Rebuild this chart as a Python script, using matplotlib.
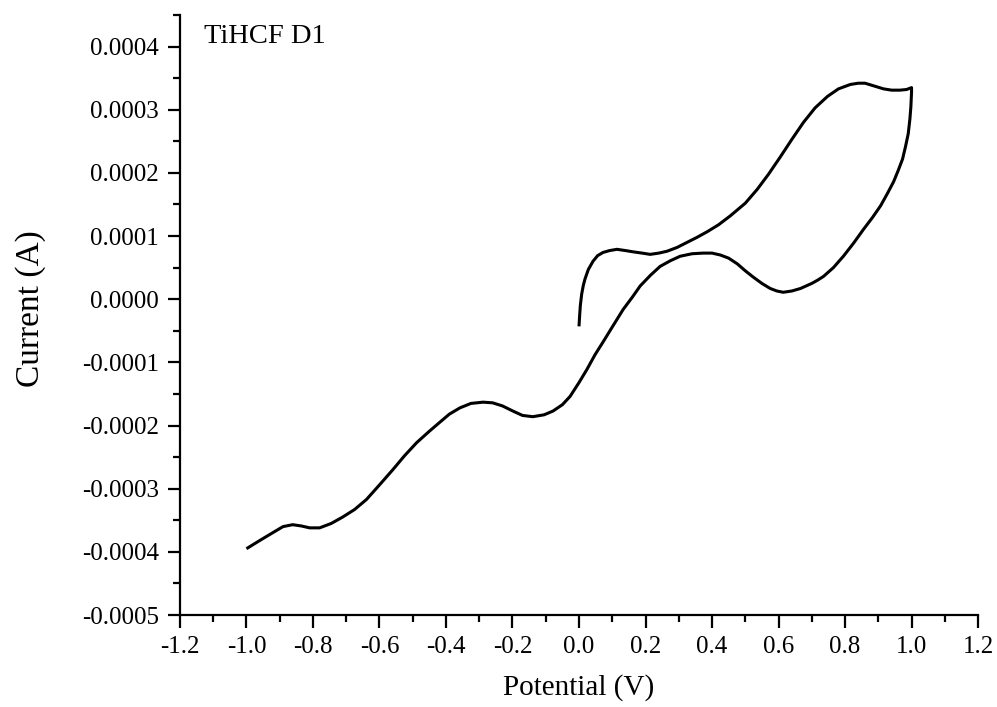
import numpy as np
import matplotlib
matplotlib.use("Agg")
import matplotlib.pyplot as plt
from matplotlib.ticker import MultipleLocator, FormatStrFormatter

plt.rcParams['font.family'] = ['Liberation Serif', 'DejaVu Serif']

# Cyclic voltammogram
# forward scan 0 -> 1 V, then reverse scan 1 -> -1 V (current in 1e-4 A)
fwd_potential = [
    0.000, 0.002, 0.004, 0.008, 0.013, 0.018, 0.028, 0.042, 0.056, 0.072,
    0.092, 0.114, 0.140, 0.163, 0.190, 0.214, 0.240, 0.265, 0.295, 0.325,
    0.355, 0.386, 0.420, 0.455, 0.500, 0.536, 0.570, 0.605, 0.640, 0.675,
    0.710, 0.747, 0.780, 0.816, 0.840, 0.860, 0.885, 0.916, 0.940, 0.965,
    0.985, 1.000,
]
fwd_current = [
    -0.43, -0.25, -0.10, 0.08, 0.22, 0.32, 0.47, 0.60, 0.69, 0.74,
    0.77, 0.79, 0.77, 0.75, 0.73, 0.71, 0.73, 0.76, 0.82, 0.90,
    0.98, 1.07, 1.18, 1.32, 1.52, 1.74, 1.98, 2.25, 2.53, 2.80,
    3.03, 3.21, 3.33, 3.40, 3.42, 3.42, 3.38, 3.33, 3.31, 3.31,
    3.32, 3.35,
]
rev_potential = [
    1.000, 0.998, 0.995, 0.990, 0.982, 0.973, 0.960, 0.946, 0.927, 0.907,
    0.882, 0.856, 0.826, 0.795, 0.765, 0.735, 0.717, 0.700, 0.666, 0.640,
    0.614, 0.595, 0.575, 0.550, 0.524, 0.500, 0.476, 0.450, 0.425, 0.400,
    0.373, 0.340, 0.304, 0.275, 0.244, 0.215, 0.184, 0.160, 0.133, 0.100,
    0.072, 0.048, 0.024, 0.000, -0.027, -0.050, -0.078, -0.105, -0.139, -0.170,
    -0.199, -0.230, -0.260, -0.289, -0.325, -0.358, -0.390, -0.419, -0.450, -0.488,
    -0.525, -0.560, -0.600, -0.639, -0.675, -0.711, -0.745, -0.780, -0.810, -0.835,
    -0.861, -0.890, -0.922, -0.960, -1.000,
]
rev_current = [
    3.28, 3.05, 2.85, 2.62, 2.42, 2.22, 2.04, 1.86, 1.67, 1.48,
    1.29, 1.11, 0.89, 0.68, 0.50, 0.36, 0.30, 0.25, 0.17, 0.13,
    0.11, 0.13, 0.17, 0.25, 0.35, 0.45, 0.56, 0.65, 0.70, 0.73,
    0.73, 0.72, 0.68, 0.61, 0.52, 0.38, 0.21, 0.03, -0.16, -0.44,
    -0.68, -0.88, -1.11, -1.32, -1.54, -1.67, -1.77, -1.83, -1.86, -1.84,
    -1.77, -1.69, -1.64, -1.63, -1.65, -1.72, -1.82, -1.95, -2.09, -2.27,
    -2.48, -2.70, -2.94, -3.17, -3.33, -3.45, -3.55, -3.62, -3.62, -3.59,
    -3.57, -3.60, -3.70, -3.82, -3.95,
]

potential = np.array(fwd_potential + rev_potential)
current = np.array(fwd_current + rev_current) * 1e-4

fig = plt.figure(figsize=(9.97, 7.07), dpi=100)
ax = fig.add_axes([0.1805, 0.1301, 0.8005, 0.8487])

ax.plot(potential, current, color='black', linewidth=2.2,
        solid_joinstyle='round', solid_capstyle='butt')

ax.set_xlim(-1.2, 1.2)
ax.set_ylim(-0.0005, 0.00045)
ax.xaxis.set_major_locator(MultipleLocator(0.2))
ax.xaxis.set_minor_locator(MultipleLocator(0.1))
ax.yaxis.set_major_locator(MultipleLocator(0.0001))
ax.yaxis.set_minor_locator(MultipleLocator(0.00005))
ax.xaxis.set_major_formatter(FormatStrFormatter('%.1f'))
ax.yaxis.set_major_formatter(FormatStrFormatter('%.4f'))

for side in ['top', 'right']:
    ax.spines[side].set_visible(False)
for side in ['left', 'bottom']:
    ax.spines[side].set_linewidth(1.6)

ax.tick_params(which='major', direction='out', length=9, width=1.6,
               labelsize=18, pad=6)
ax.tick_params(which='minor', direction='out', length=5, width=1.6)

ax.set_xlabel('Potential (V)', fontsize=21, labelpad=12)
ax.set_ylabel('Current (A)', fontsize=24)
ax.yaxis.set_label_coords(-0.168, 0.51)

ax.text(0.030, 0.953, 'TiHCF D1', transform=ax.transAxes, fontsize=20.5,
        ha='left', va='baseline')

fig.savefig('out.png', dpi=100)
